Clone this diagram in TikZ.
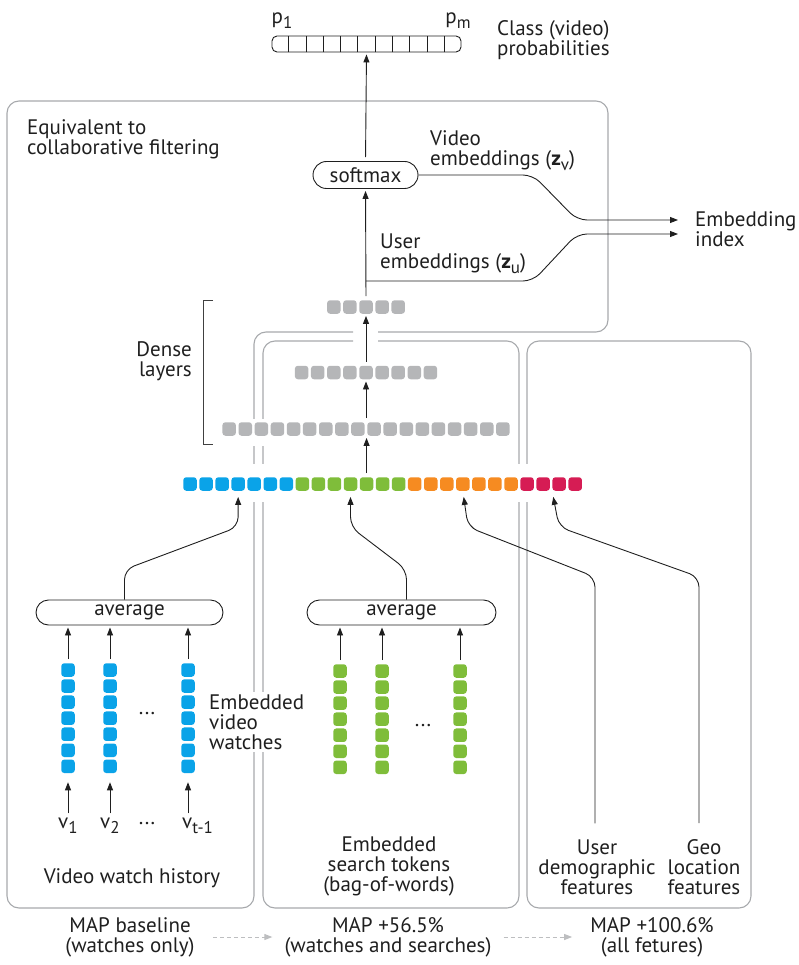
\documentclass[tikz,border=0pt]{standalone}
\usepackage{fontspec}
\setmainfont{PT Sans}
\usetikzlibrary{arrows.meta,calc}
\newcommand{\lo}[1]{\raisebox{-0.5ex}{\fontsize{17}{17}\selectfont #1}}

\begin{document}
\begin{tikzpicture}[x=1pt,y=-1pt,>={Triangle[length=8pt,width=6pt]},
  txt/.style={inner sep=0pt,text=black!88,font=\fontsize{21}{20}\selectfont},
  frame/.style={draw=cFrame,line width=1.1pt,rounded corners=12pt},
  cell/.style={rectangle,rounded corners=3pt,minimum size=13.5pt,inner sep=0pt,fill=#1},
  pill/.style={txt,draw=black!88,line width=0.9pt,rounded corners=12.5pt,minimum height=25pt},
  link/.style={->,line width=0.9pt,black!88,shorten <=4pt,shorten >=2pt},
  feed/.style={->,line width=0.9pt,black!88,rounded corners=10pt,shorten >=6pt},
  hint/.style={->,cHint,line width=1pt,dash pattern=on 4pt off 3pt}]

% colors
\definecolor{cWatch}{HTML}{0AA3E8}
\definecolor{cSearch}{HTML}{7FBD3A}
\definecolor{cUser}{HTML}{F68B21}
\definecolor{cGeo}{HTML}{D61C54}
\definecolor{cDense}{HTML}{B5B6B8}
\definecolor{cFrame}{HTML}{A7A9AC}
\definecolor{cHint}{HTML}{BDBEC0}

\useasboundingbox (0,0) rectangle (799,965);

% model frames: watches only, + searches, all features
\draw[frame] (353,332) -- (254,332) -- (254,908) -- (7,908) -- (7,101)
  -- (608,101) -- (608,332) -- (378,332);
\draw[frame] (353,341) -- (263,341) -- (263,908) -- (519,908) -- (519,341)
  -- (378,341);
\draw[frame] (527,341) rectangle (751,908);

% keep the frame lines off the rows
\fill[white] (214,419) rectangle (512,446);
\fill[white] (176,464) rectangle (590,502);

% class probabilities
\node[draw=black!88,line width=0.9pt,rounded corners=5pt,minimum width=189pt,
  minimum height=16pt,inner sep=0pt] (probs) at (366.5,44) {};
\foreach \k in {1,...,10}
  \draw[line width=0.8pt,black!88] ($(probs.south west)!\k/11!(probs.south east)$)
    -- ($(probs.north west)!\k/11!(probs.north east)$);
\node[txt] (p1) at (282,21) {p\lo{1}};
\node[txt] (pm) at (458,21) {p\lo{m}};
\node[txt,anchor=west,align=left] (cls) at (497,40) {Class (video)\\probabilities};

% softmax and embeddings
\node[pill,minimum width=105pt,minimum height=27pt,rounded corners=13.5pt] (soft)
  at (365.5,175) {softmax};
\node[txt,anchor=west,align=left] (cf) at (27,139)
  {Equivalent to\\collaborative filtering};
\node[txt,anchor=west,align=left] (vemb) at (430,151)
  {Video\\embeddings (\textbf{z}\lo{v})};
\node[txt,anchor=west,align=left] (uemb) at (380,254)
  {User\\embeddings (\textbf{z}\lo{u})};
\node[txt,anchor=west,align=left] (emb) at (695,229) {Embedding\\index};
\coordinate (branch) at (366,281);

% dense layers
\foreach \n/\y/\r in {18/429/a, 9/372.5/b, 5/307/c}
  \foreach \i in {1,...,\n}
    \node[cell=cDense] (\r-\i) at ({366+(\i-(\n+1)/2)*16.1},\y) {};
\draw[line width=1pt,black!75] (213,300) -- (203,300) -- (203,444) -- (213,444);
\node[txt,anchor=east,align=right] (dense) at (192,361) {Dense\\layers};

% concatenated input row
\foreach \a/\b/\c in {1/7/cWatch, 8/14/cSearch, 15/21/cUser, 22/25/cGeo}
  \foreach \i in {\a,...,\b}
    \node[cell=\c] (in-\i) at ({190+(\i-1)*16.05},484) {};

% watch history tower
\node[pill,minimum width=187pt] (avgW) at (129.5,612.5) {average};
\foreach \x/\c in {68/w1, 110/w2, 188/w3}
  \foreach \j in {1,...,7}
    \node[cell=cWatch] (\c-\j) at (\x,{670+(\j-1)*16.05}) {};
\node[txt] (wdots) at (147,714) {...};
\node[txt,anchor=base west] (v1) at (58,828) {v\lo{1}};
\node[txt,anchor=base west] (v2) at (100,828) {v\lo{2}};
\node[txt,anchor=base west] (vt) at (182,828) {v\lo{t-1}};
\node[txt] (vdots) at (147,824) {...};
\node[txt,anchor=west,align=left,fill=white,inner sep=3pt] (ewatch) at (206,722)
  {Embedded\\video\\watches};
\node[txt] (hist) at (132,878) {Video watch history};

% search tokens tower
\node[pill,minimum width=189pt] (avgS) at (401.5,612.5) {average};
\foreach \x/\c in {340/s1, 382/s2, 460/s3}
  \foreach \j in {1,...,7}
    \node[cell=cSearch] (\c-\j) at (\x,{671+(\j-1)*16.05}) {};
\node[txt] (sdots) at (423,726) {...};
\node[txt,align=center] (tok) at (389,866)
  {Embedded\\search tokens\\(bag-of-words)};

% side features
\node[txt,align=center] (user) at (597,867) {User\\demographic\\features};
\node[txt,align=center] (geo) at (704,867) {Geo\\location\\features};

% MAP comparison
\node[txt,align=center] (map1) at (130,937) {MAP baseline\\(watches only)};
\node[txt,align=center] (map2) at (388,937) {MAP +56.5\%\\(watches and searches)};
\node[txt,align=center] (map3) at (652,937) {MAP +100.6\%\\(all fetures)};
\draw[hint,shorten <=18pt,shorten >=12pt] (map1.east) -- (map2.west);
\draw[hint,shorten <=12pt,shorten >=18pt] (map2.east) -- (map3.west);

% arrows up the tower
\foreach \c/\v in {w1/v1, w2/v2, w3/vt} {
  \draw[link,shorten >=9pt] (\c-7.south |- \v.north) -- (\c-7.south);
  \draw[link] (\c-1.north) -- (\c-1.north |- avgW.south);
}
\foreach \c in {s1,s2,s3}
  \draw[link] (\c-1.north) -- (\c-1.north |- avgS.south);
\draw[feed] ([xshift=-5pt]avgW.north) -- ++(0,-30) -- ([yshift=-36pt]in-4.south)
  -- (in-4.south);
\draw[feed] ([xshift=5pt]avgS.north) -- ++(0,-30) -- ([yshift=-36pt]in-11.south)
  -- (in-11.south);
\draw[feed,shorten <=16pt] ([xshift=-2pt]user.north) -- (595,577) -- (468,527)
  -- (in-18.south);
\draw[feed,shorten <=16pt] ([xshift=-5pt]geo.north) -- (699,577) -- (559,527)
  -- ([xshift=-7pt]in-24.south);
\draw[link] (in-12.north) -- (in-12.north |- a-1.south);
\draw[link] (b-5.south |- a-1.north) -- (b-5.south);
\draw[link] (b-5.north) -- (c-3.south);
\draw[link] (c-3.north) -- (soft.south);
\draw[link] (soft.north) -- (probs.south);

% embedding index
\draw[feed,shorten >=17pt] (soft.east) -- (533,175) -- (577,220)
  -- ([yshift=9pt]emb.west);
\draw[feed,shorten >=17pt] (branch) -- (533,281) -- (577,234)
  -- ([yshift=-5pt]emb.west);

\end{tikzpicture}
\end{document}
